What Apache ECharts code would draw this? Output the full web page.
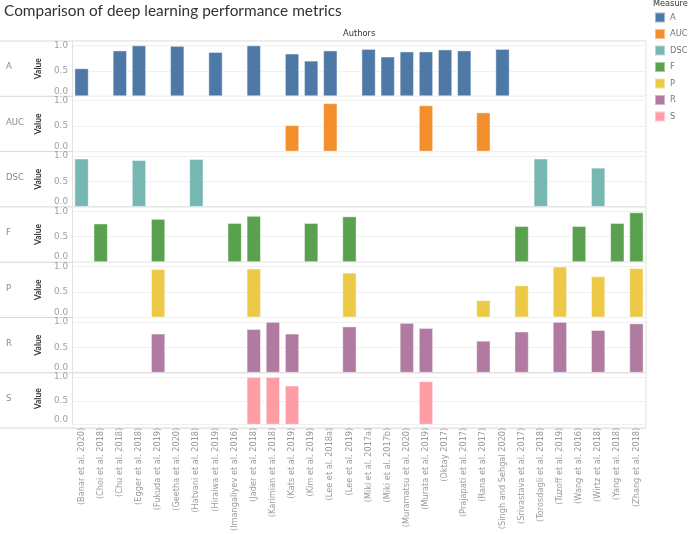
<!DOCTYPE html>
<html><head><meta charset="utf-8">
<script src="https://cdn.jsdelivr.net/npm/echarts@6/dist/echarts.min.js"></script>
<style>html,body{margin:0;padding:0;background:#fff}#c{width:693px;height:534px}</style>
</head><body><div id="c"></div>
<script>
const categories = ['(Banar et al. 2020)','(Choi et al. 2018)','(Chu et al. 2018)','(Egger et al. 2018)','(Fukuda et al. 2019)','(Geetha et al. 2020)','(Hatvani et al. 2018)','(Hiraiwa et al. 2019)','(Imangaliyev et al. 2016)','(Jader et al. 2018)','(Karimian et al. 2018)','(Kats et al. 2019)','(Kim et al. 2019)','(Lee et al. 2018a)','(Lee et al. 2019)','(Miki et al. 2017a)','(Miki et al. 2017b)','(Muramatsu et al. 2020)','(Murata et al. 2019)','(Oktay 2017)','(Prajapati et al. 2017)','(Rana et al. 2017)','(Singh and Sehgal 2020)','(Srivastava et al. 2017)','(Torosdagli et al. 2018)','(Tuzoff et al. 2019)','(Wang et al. 2016)','(Wirtz et al. 2018)','(Yang et al. 2018)','(Zhang et al. 2018)'];
const measures = ['A','AUC','DSC','F','P','R','S'];
const n = null;
const valuesA   = [0.55,n,0.90,1.00,n,0.99,n,0.87,n,1.00,n,0.84,0.70,0.90,n,0.93,0.78,0.88,0.88,0.92,0.90,n,0.93,n,n,n,n,n,n,n];
const valuesAUC = [n,n,n,n,n,n,n,n,n,n,n,0.52,n,0.95,n,n,n,n,0.91,n,n,0.77,n,n,n,n,n,n,n,n];
const valuesDSC = [0.95,n,n,0.92,n,n,0.94,n,n,n,n,n,n,n,n,n,n,n,n,n,n,n,n,n,0.95,n,n,0.77,n,n];
const valuesF   = [n,0.76,n,n,0.85,n,n,n,0.77,0.91,n,n,0.77,n,0.90,n,n,n,n,n,n,n,n,0.71,n,n,0.71,n,0.77,0.98];
const valuesP   = [n,n,n,n,0.95,n,n,n,n,0.96,n,n,n,n,0.88,n,n,n,n,n,n,0.34,n,0.63,n,1.00,n,0.81,n,0.97];
const valuesR   = [n,n,n,n,0.77,n,n,n,n,0.86,1.00,0.77,n,n,0.91,n,n,0.98,0.88,n,n,0.63,n,0.81,n,1.00,n,0.84,n,0.97];
const valuesS   = [n,n,n,n,n,n,n,n,n,1.00,1.00,0.82,n,n,n,n,n,n,0.91,n,n,n,n,n,n,n,n,n,n,n];
const yTicks = [0, 0.5, 1.0];

const seriesValues = [valuesA, valuesAUC, valuesDSC, valuesF, valuesP, valuesR, valuesS];
const colors = ['#4e79a7','#f28e2b','#76b7b2','#59a14f','#edc948','#b07aa1','#ff9da7'];
const SMALL = '"DejaVu Sans", sans-serif';
const TITLE = 'Lato, "Noto Sans", sans-serif';
const L = 72, R = 646, TOP = 41, PH = 55.3;

const grids = [], xAxes = [], yAxes = [], series = [], graphics = [];
measures.forEach((m, i) => {
  const top = TOP + i * PH;
  grids.push({left: L, width: R - L, top: top, height: PH});
  const last = i === measures.length - 1;
  xAxes.push({
    type: 'category', gridIndex: i, data: categories,
    axisLine: {show: false}, axisTick: {show: false},
    axisLabel: last ? {show: true, rotate: 90, fontSize: 8.2, color: '#9a9a9a', fontFamily: SMALL, margin: 3, interval: 0} : {show: false}
  });
  yAxes.push({
    type: 'value', gridIndex: i, min: 0, max: 1.085, interval: 0.5,
    name: 'Value', nameLocation: 'middle', nameGap: 19, nameRotate: 90,
    nameTextStyle: {fontSize: 8.5, fontWeight: 'bold', color: '#333', fontFamily: TITLE},
    axisLine: {show: true, lineStyle: {color: '#e2e2e2'}}, axisTick: {show: false},
    splitLine: {show: true, lineStyle: {color: '#f0f0f0'}},
    axisLabel: {
      fontSize: 8.8, color: '#a0a0a0', fontFamily: SMALL, margin: 4,
      formatter: v => (yTicks.indexOf(v) < 0 ? '' : (v === 0 ? '{z|0.0}' : v.toFixed(1))),
      rich: {z: {fontSize: 8.8, color: '#a0a0a0', fontFamily: SMALL, padding: [0, 0, 10, 0]}}
    }
  });
  series.push({
    name: m, type: 'bar', xAxisIndex: i, yAxisIndex: i, data: seriesValues[i],
    barWidth: '75%', itemStyle: {color: colors[i], borderColor: 'rgba(255,255,255,0.45)', borderWidth: 1},
    emphasis: {disabled: true}
  });
  graphics.push({type: 'text', left: 6, top: top + PH / 2 - 6,
    style: {text: m, fontSize: 8.5, fill: '#8a8a8a', fontFamily: SMALL}});
  graphics.push({type: 'line', shape: {x1: 0, y1: top + PH, x2: R, y2: top + PH},
    style: {stroke: '#d6d6d6', lineWidth: 1}});
});
graphics.push({type: 'line', shape: {x1: 0, y1: TOP, x2: R, y2: TOP}, style: {stroke: '#d6d6d6', lineWidth: 1}});
graphics.push({type: 'line', shape: {x1: R, y1: TOP, x2: R, y2: TOP + 7 * PH}, style: {stroke: '#e2e2e2', lineWidth: 1}});
graphics.push({type: 'text', left: 4, top: 4, style: {text: 'Comparison of deep learning performance metrics', fontSize: 15.4, fill: '#333', fontFamily: TITLE}});
graphics.push({type: 'text', left: 343, top: 30, style: {text: 'Authors', fontSize: 8.3, fill: '#333', fontFamily: SMALL}});
graphics.push({type: 'text', left: 653, top: 0, style: {text: 'Measure', fontSize: 8.2, fill: '#333', fontFamily: SMALL}});

const chart = echarts.init(document.getElementById('c'), null, {renderer: 'canvas'});
chart.setOption({
  animation: false,
  grid: grids, xAxis: xAxes, yAxis: yAxes, series: series,
  legend: {orient: 'vertical', left: 654, top: 11.5, padding: 0, itemWidth: 10, itemHeight: 10, itemGap: 4.5,
    icon: 'rect', data: measures, textStyle: {fontSize: 8.3, color: '#777', fontFamily: SMALL}, selectedMode: false},
  graphic: graphics
});
</script></body></html>
